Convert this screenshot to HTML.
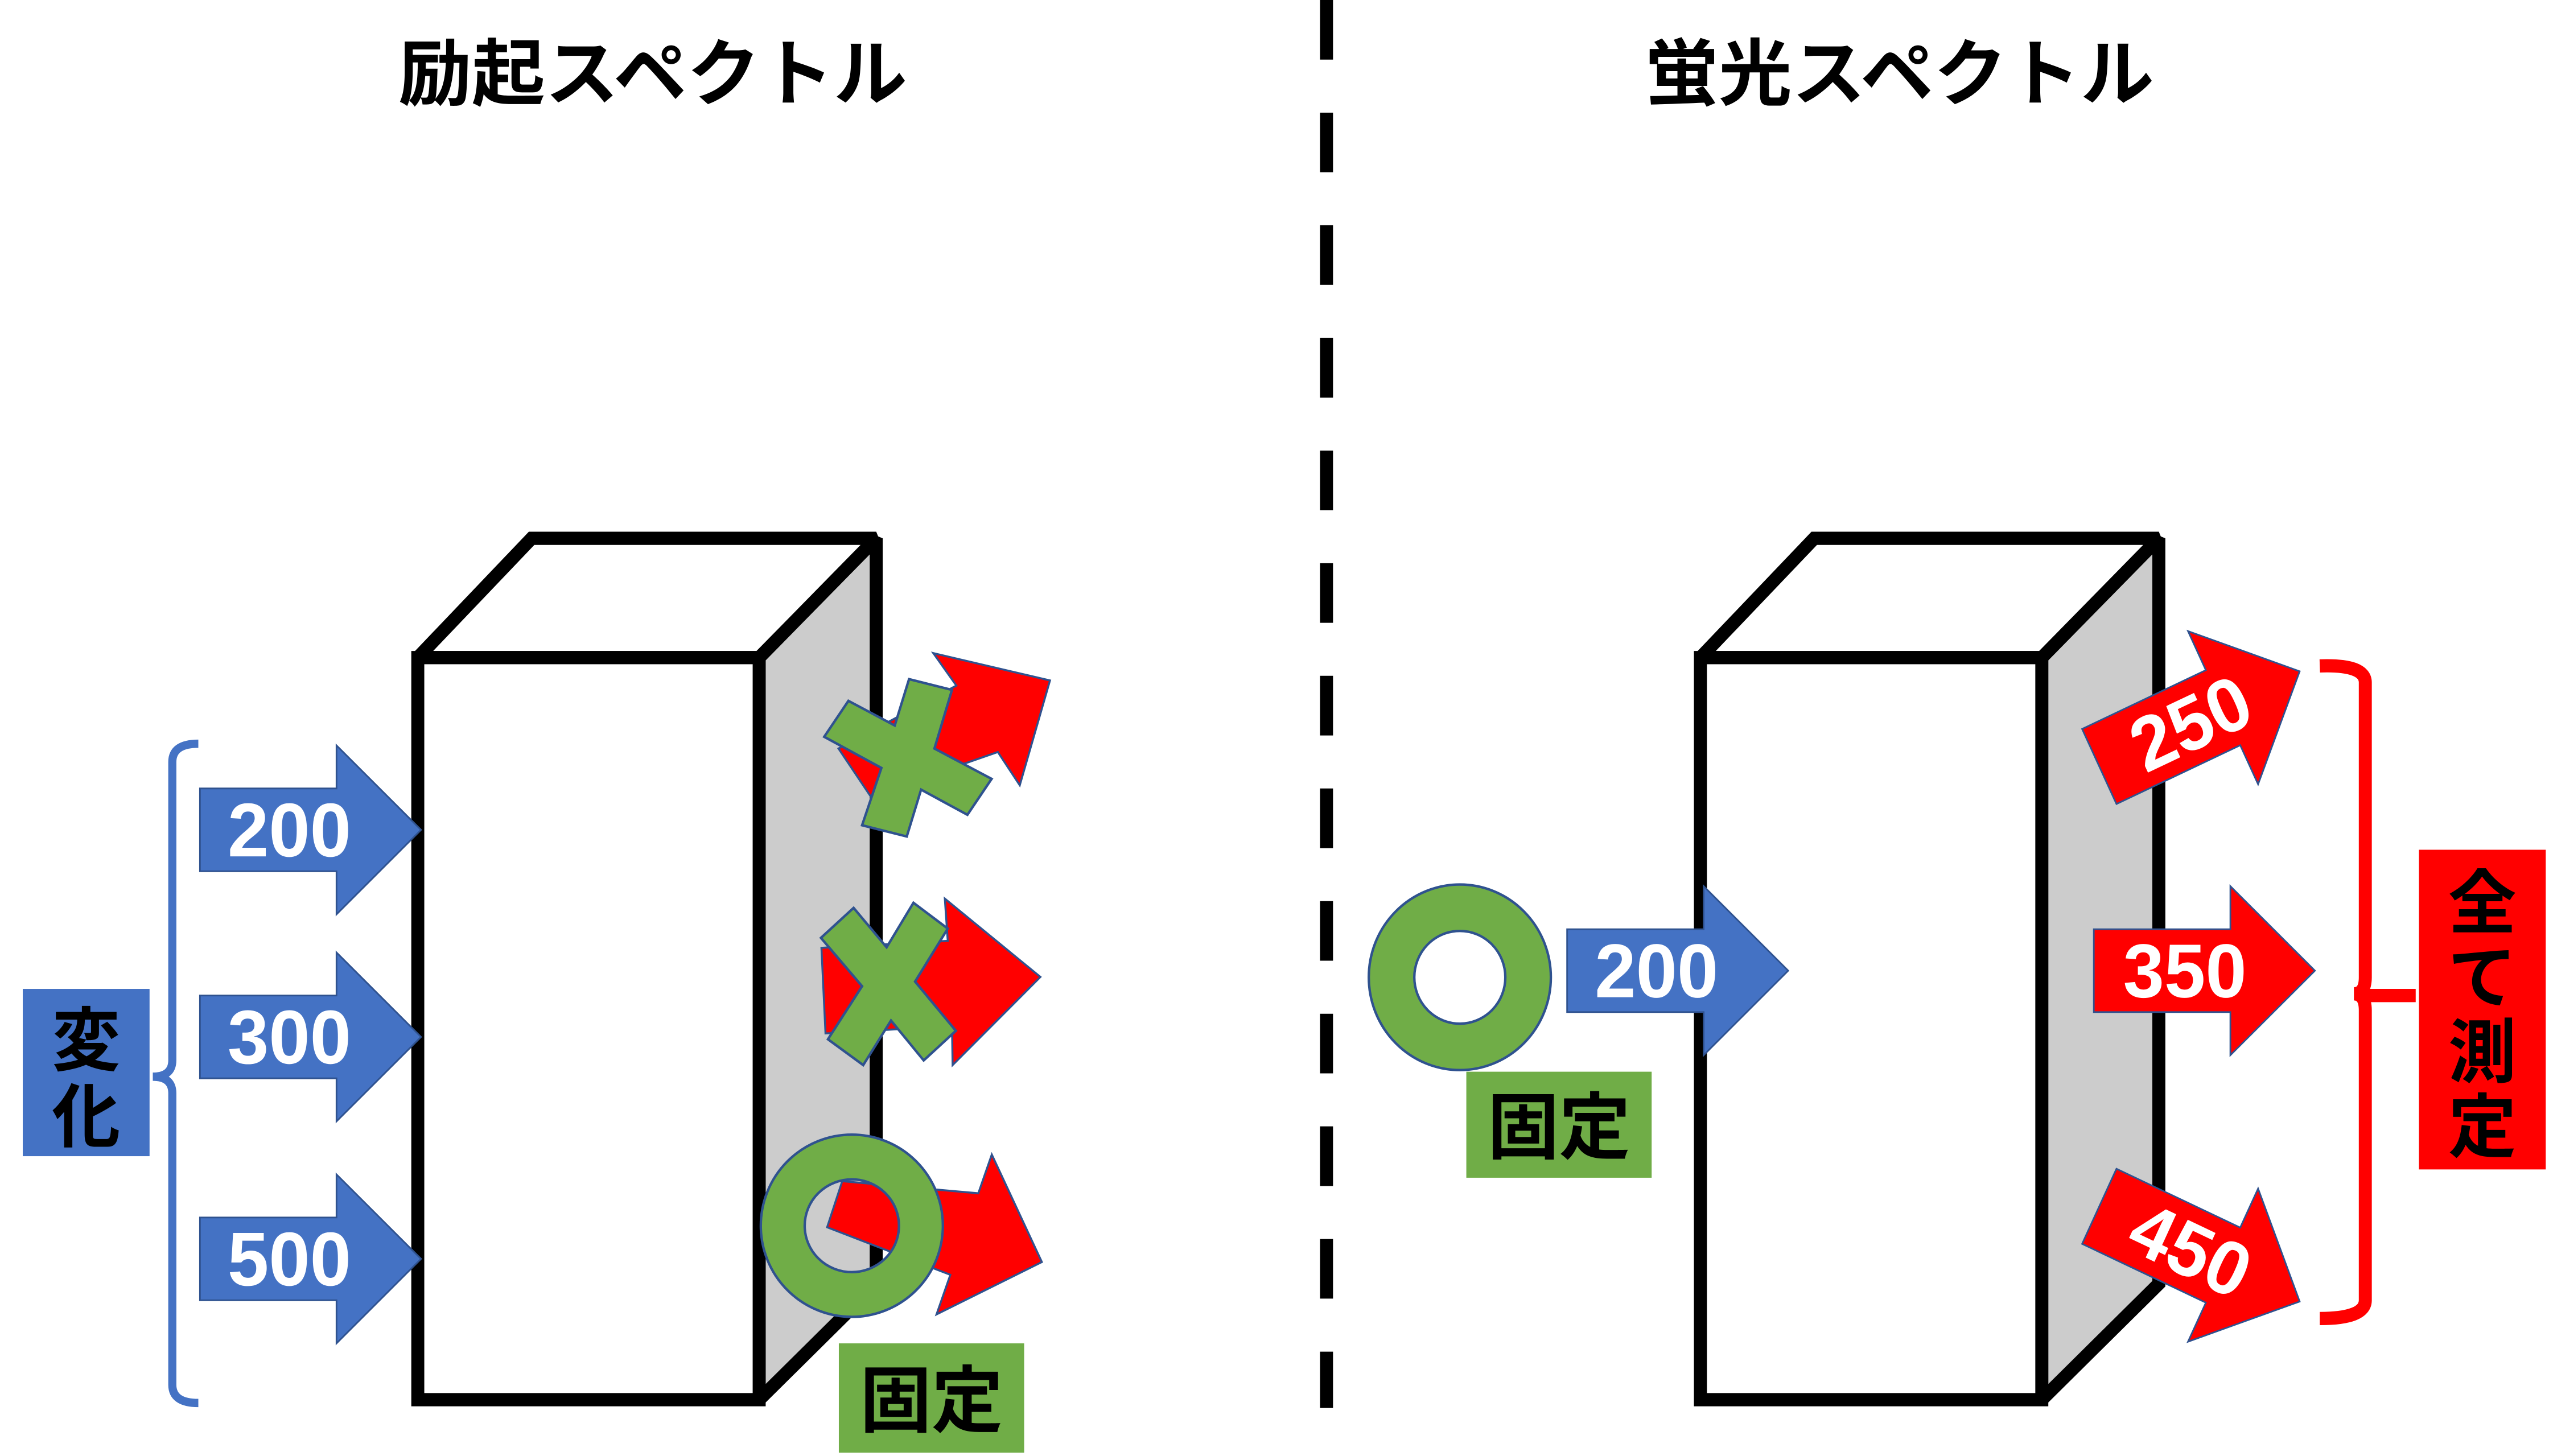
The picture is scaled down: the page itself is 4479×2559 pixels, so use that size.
<!DOCTYPE html>
<html><head><meta charset="utf-8"><style>
html,body{margin:0;padding:0;background:#fff;}
svg{display:block;}
text{font-family:"Liberation Sans","Noto Sans CJK JP",sans-serif;font-weight:bold;}
</style></head><body>
<svg width="4479" height="2559" viewBox="0 0 1568 879" preserveAspectRatio="none" xmlns="http://www.w3.org/2000/svg">
<defs>
<polygon id="ar" points="-68,-25 16,-25 16,-51 68,0 16,51 16,25 -68,25"/>
</defs>
<text x="245" y="60" font-size="44" textLength="313" lengthAdjust="spacingAndGlyphs" fill="#000">励起スペクトル</text>
<text x="1012" y="60" font-size="44" textLength="313" lengthAdjust="spacingAndGlyphs" fill="#000">蛍光スペクトル</text>
<line x1="816" y1="0" x2="816" y2="850" stroke="#000" stroke-width="8" stroke-dasharray="36,32"/>

<g stroke-miterlimit="2">
<!-- left box -->
<polygon points="467,397 539,325 539,775 467,845" fill="#cccccc" stroke="#000" stroke-width="8"/>
<polygon points="257,397 327,325 539,325 467,397" fill="#fff" stroke="#000" stroke-width="8"/>
<rect x="257" y="397" width="210" height="448" fill="#fff" stroke="#000" stroke-width="8"/>

<!-- right box -->
<polygon points="1256,397 1328,325 1328,775 1256,845" fill="#cccccc" stroke="#000" stroke-width="8"/>
<polygon points="1046,397 1116,325 1328,325 1256,397" fill="#fff" stroke="#000" stroke-width="8"/>
<rect x="1046" y="397" width="210" height="448" fill="#fff" stroke="#000" stroke-width="8"/>
</g>

<!-- blue arrows -->
<g fill="#4472C4" stroke="#2F528F" stroke-width="1">
<use href="#ar" transform="translate(191,501)"/>
<use href="#ar" transform="translate(191,626)"/>
<use href="#ar" transform="translate(191,760)"/>
<use href="#ar" transform="translate(1032,586)"/>
</g>
<g fill="#fff" font-size="46">
<text x="140" y="517" textLength="76" lengthAdjust="spacingAndGlyphs">200</text>
<text x="140" y="642" textLength="76" lengthAdjust="spacingAndGlyphs">300</text>
<text x="140" y="776" textLength="76" lengthAdjust="spacingAndGlyphs">500</text>
<text x="981" y="602" textLength="76" lengthAdjust="spacingAndGlyphs">200</text>
</g>
<path d="M122,449 Q106,449 106,460 L106,640 Q106,650 94,650 Q106,650 106,660 L106,836 Q106,847 122,847" fill="none" stroke="#4472C4" stroke-width="5"/>
<rect x="14" y="597" width="78" height="101" fill="#4472C4"/>
<text x="53" y="643" font-size="42" text-anchor="middle" fill="#000">変</text>
<text x="53" y="689" font-size="42" text-anchor="middle" fill="#000">化</text>

<!-- left red arrows + marks -->
<g fill="#FF0000" stroke="#2F528F" stroke-width="1.2">
<polygon points="515.8,451.9 588.3,413.9 574.1,394.3 645.9,410.8 627.3,474.1 613.8,454 535.5,480.7"/>
<polygon points="505.3,572.2 583,568 581.2,542.5 640,589.8 586,643 585.6,619.4 507.8,623.9"/>
<polygon points="518.1,713.1 601.8,720.4 610.1,697 640.9,761.9 576.1,793.5 584.6,769.6 508.8,740.9"/>
</g>
<g fill="#70AD47" stroke="#2F528F" stroke-width="1.5">
<polygon points="521.9,423.1 550.4,438 559.2,410 585.6,416.5 574.8,451.9 610,470.2 595.1,491.9 566.6,476.7 557.8,505 530.3,498.2 542.2,463.6 507,444.8"/>
<polygon points="525.1,548.1 545.4,571.9 561.9,545 583,560.6 562.9,592.6 588,622.3 568.2,640.2 548.1,616.1 531,643 509.3,627.4 530.3,595.4 505,566.2"/>
<path d="M468,740 a56,55 0 1,0 112,0 a56,55 0 1,0 -112,0 Z M495,740 a29,28 0 1,1 58,0 a29,28 0 1,1 -58,0 Z" fill-rule="evenodd"/>
</g>
<rect x="516" y="811" width="114" height="66" fill="#70AD47"/>
<text x="573" y="861" font-size="44" text-anchor="middle" fill="#000">固定</text>

<!-- right green ring -->
<path d="M842,590 a56,56 0 1,0 112,0 a56,56 0 1,0 -112,0 Z M870,590 a28,28 0 1,1 56,0 a28,28 0 1,1 -56,0 Z" fill="#70AD47" fill-rule="evenodd" stroke="#2F528F" stroke-width="1.5"/>
<rect x="902" y="647" width="114" height="64" fill="#70AD47"/>
<text x="959" y="696" font-size="44" text-anchor="middle" fill="#000">固定</text>

<!-- right red arrows -->
<g fill="#FF0000" stroke="#2F528F" stroke-width="1">
<g transform="translate(1353,434) rotate(-25)"><use href="#ar"/><text x="-44" y="16" font-size="46" fill="#fff" stroke="none" textLength="76" lengthAdjust="spacingAndGlyphs">250</text></g>
<g transform="translate(1356,586)"><use href="#ar"/><text x="-50" y="16" font-size="46" fill="#fff" stroke="none" textLength="76" lengthAdjust="spacingAndGlyphs">350</text></g>
<g transform="translate(1353,757) rotate(25)"><use href="#ar"/><text x="-44" y="16" font-size="46" fill="#fff" stroke="none" textLength="76" lengthAdjust="spacingAndGlyphs">450</text></g>
</g>
<path d="M1427,402 Q1455,401 1455,412 L1455,590 Q1455,600 1448,600 Q1455,600 1455,610 L1455,785 Q1455,796 1427,796" fill="none" stroke="#FF0000" stroke-width="8"/>
<line x1="1455" y1="601" x2="1486" y2="601" stroke="#FF0000" stroke-width="8"/>
<rect x="1488" y="513" width="78" height="193" fill="#FF0000"/>
<g font-size="42" text-anchor="middle" fill="#000">
<text x="1527" y="560">全</text>
<text x="1527" y="605">て</text>
<text x="1527" y="650">測</text>
<text x="1527" y="695">定</text>
</g>
</svg>
</body></html>
